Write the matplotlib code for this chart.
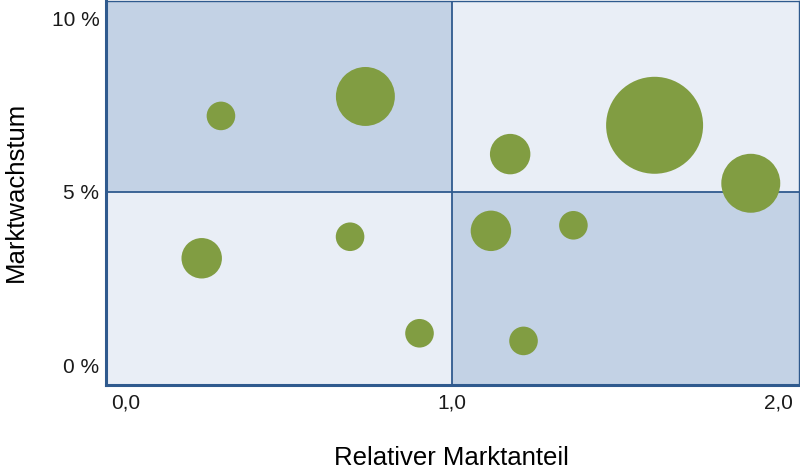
import matplotlib
matplotlib.use("Agg")
import matplotlib.pyplot as plt
from matplotlib.patches import Rectangle

plt.rcParams['font.family'] = ['Liberation Sans', 'DejaVu Sans']

# Portfolio data (relative market share, market growth in %, turnover)
marktanteil = [0.291, 0.734, 0.232, 0.687, 0.900, 1.119, 1.178, 1.219, 1.372, 1.621, 1.916]
wachstum = [7.19, 7.75, 3.09, 3.71, 0.93, 3.88, 6.09, 0.71, 4.04, 6.92, 5.25]
umsatz = [2, 8.5, 4, 2, 2, 4, 4, 2, 2, 23, 8.5]

x_ticks = [0, 1, 2]
x_labels = ['0,0', '1,0', '2,0']
y_ticks = [0, 5, 10]
y_labels = ['0 %', '5 %', '10 %']

x_split = 1.0
y_split = 5.0

dark = '#C3D2E5'
light = '#E9EEF6'
frame = '#2F5A8E'
bubble = '#819D42'

fig = plt.figure(figsize=(8, 4.69), dpi=100)
ax = fig.add_axes([0.1319, 0.1791, 0.8669, 0.8188])

xmin, xmax = -0.063, 2.064
ymin, ymax = -0.56, 10.5
ax.set_xlim(xmin, xmax)
ax.set_ylim(ymin, ymax)

# four quadrants
ax.add_patch(Rectangle((xmin, y_split), x_split - xmin, ymax - y_split, color=dark, zorder=0, lw=0))
ax.add_patch(Rectangle((x_split, y_split), xmax - x_split, ymax - y_split, color=light, zorder=0, lw=0))
ax.add_patch(Rectangle((xmin, ymin), x_split - xmin, y_split - ymin, color=light, zorder=0, lw=0))
ax.add_patch(Rectangle((x_split, ymin), xmax - x_split, y_split - ymin, color=dark, zorder=0, lw=0))
ax.axvline(x_split, color=frame, lw=1.3, zorder=1)
ax.axhline(y_split, color=frame, lw=1.3, zorder=1)

sizes = [212 * u for u in umsatz]
ax.scatter(marktanteil, wachstum, s=sizes, color=bubble, linewidths=0, zorder=3)

ax.set_xticks(x_ticks)
ax.set_xticklabels(x_labels)
ax.set_yticks(y_ticks)
ax.set_yticklabels(y_labels)
ax.tick_params(axis='both', length=0, labelsize=15, colors='#1a1a1a')
ax.tick_params(axis='x', pad=6)
ax.tick_params(axis='y', pad=4.5)

for side in ['left', 'bottom']:
    ax.spines[side].set_color(frame)
    ax.spines[side].set_linewidth(2.2)
for side in ['top', 'right']:
    ax.spines[side].set_color(frame)
    ax.spines[side].set_linewidth(1.0)

fig.text(0.564, 0.024, 'Relativer Marktanteil', ha='center', va='center', fontsize=18.5)
fig.text(0.02, 0.591, 'Marktwachstum', ha='center', va='center', rotation=90, fontsize=18.5)

fig.savefig('out.png', dpi=100)
